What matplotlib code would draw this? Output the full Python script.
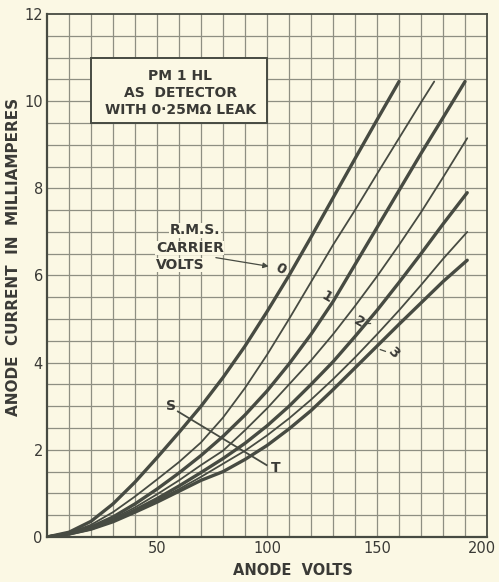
import matplotlib
matplotlib.use("Agg")
import matplotlib.pyplot as plt
from matplotlib.patches import Rectangle
from matplotlib.transforms import ScaledTranslation

# ---- data ----
volts = [0, 10, 20, 30, 40, 50, 60, 70, 80, 90, 100, 110, 120, 130, 140, 150, 160, 170, 180, 190]

c0_v = volts[:17]
c0_i = [0, 0.11, 0.36, 0.76, 1.26, 1.82, 2.40, 3.00, 3.66, 4.38, 5.17, 6.00, 6.88, 7.78, 8.68, 9.57, 10.45]

c05_v = volts[:18] + [176]
c05_i = [0, 0.09, 0.28, 0.57, 0.93, 1.32, 1.72, 2.17, 2.74, 3.42, 4.18, 5.00, 5.85, 6.70, 7.50, 8.33, 9.15, 9.97, 10.45]

c1_v = volts
c1_i = [0, 0.08, 0.23, 0.46, 0.76, 1.10, 1.47, 1.87, 2.31, 2.80, 3.35, 3.97, 4.65, 5.40, 6.25, 7.10, 7.95, 8.80, 9.62, 10.45]

c15_v = volts[:19] + [191]
c15_i = [0, 0.07, 0.20, 0.42, 0.68, 0.98, 1.30, 1.65, 1.98, 2.45, 2.95, 3.50, 4.05, 4.65, 5.30, 5.98, 6.70, 7.45, 8.25, 9.15]

c2_v = volts[:19] + [191]
c2_i = [0, 0.07, 0.19, 0.38, 0.62, 0.88, 1.17, 1.48, 1.80, 2.15, 2.55, 3.00, 3.50, 4.02, 4.60, 5.20, 5.84, 6.50, 7.18, 7.90]

c25_v = volts[:19] + [191]
c25_i = [0, 0.07, 0.18, 0.36, 0.60, 0.84, 1.10, 1.38, 1.68, 1.98, 2.33, 2.72, 3.15, 3.62, 4.12, 4.65, 5.20, 5.78, 6.38, 7.00]

c3_v = volts[:19] + [191]
c3_i = [0, 0.07, 0.18, 0.35, 0.57, 0.80, 1.05, 1.30, 1.50, 1.78, 2.10, 2.48, 2.90, 3.38, 3.88, 4.38, 4.88, 5.37, 5.86, 6.35]

st_v = [59.5, 99.8]
st_i = [2.88, 1.65]

curve_labels = ["0", "1", "2", "3"]
label_v = [106.0, 127.3, 141.8, 157.5]
label_i = [6.15, 5.50, 4.93, 4.22]

x_ticks = [50, 100, 150, 200]
y_ticks = [0, 2, 4, 6, 8, 10, 12]

# ---- style ----
BG = "#fbf8e4"
GRID = "#8e8f82"
INK = "#474b42"
TXT = "#3a3a36"
plt.rcParams["font.family"] = ["DejaVu Sans"]

fig = plt.figure(figsize=(4.99, 5.82), dpi=100, facecolor=BG)
ax = fig.add_axes([0.0942, 0.0773, 0.8818, 0.8987], facecolor=BG)
ax.set_xlim(0, 200)
ax.set_ylim(0, 12)

# grid
for v in range(10, 200, 10):
    ax.axvline(v, color=GRID, lw=0.9, zorder=1)
for k in range(1, 24):
    ax.axhline(k * 0.5, color=GRID, lw=0.9, zorder=1)

for side in ["left", "bottom", "top", "right"]:
    ax.spines[side].set_color(INK)
ax.spines["left"].set_linewidth(1.6)
ax.spines["bottom"].set_linewidth(1.6)
ax.spines["top"].set_linewidth(1.3)
ax.spines["right"].set_linewidth(1.3)

# curves
thick = dict(color=INK, lw=2.4, solid_capstyle="round", zorder=3)
thin = dict(color=INK, lw=1.3, solid_capstyle="round", zorder=3)
ax.plot(c0_v, c0_i, **thick)
ax.plot(c05_v, c05_i, **thin)
ax.plot(c1_v, c1_i, **thick)
ax.plot(c15_v, c15_i, **thin)
ax.plot(c2_v, c2_i, **thick)
ax.plot(c25_v, c25_i, **thin)
ax.plot(c3_v, c3_i, **thick)

tkw = dict(fontsize=10, color=TXT, fontweight="bold", zorder=5)

# S - T line
ax.plot(st_v, st_i, color=INK, lw=1.3, zorder=3)
ax.text(st_v[0] - 1.0, st_i[0] + 0.12, "S", ha="right", va="center", **tkw)
ax.text(st_v[1] + 1.8, st_i[1] - 0.07, "T", ha="left", va="center", **tkw)

# curve number labels
rots = [-30, -30, -30, -45]
for lab, lv, li, r in zip(curve_labels, label_v, label_i, rots):
    ax.text(lv, li, lab, ha="center", va="center", rotation=r, **tkw)
ax.plot([145.0, 147.0], [4.92, 4.92], color=INK, lw=0.9, zorder=4)
ax.plot([151.5, 153.8], [4.30, 4.26], color=INK, lw=0.9, zorder=4)

# R.M.S. carrier volts annotation
box = dict(facecolor=BG, edgecolor="none", pad=0.3)
ax.text(67.3, 7.04, "R.M.S.", ha="center", va="center", bbox=box, **tkw)
ax.text(49.5, 6.63, "CARRIER", ha="left", va="center", bbox=box, **tkw)
ax.text(49.5, 6.24, "VOLTS", ha="left", va="center", bbox=box, **tkw)
ax.annotate("", xy=(102.0, 6.2), xytext=(75.5, 6.42),
            arrowprops=dict(arrowstyle="-|>", color=INK, lw=0.9,
                            mutation_scale=8), zorder=4)

# title box
ax.add_patch(Rectangle((20, 9.5), 80, 1.5, facecolor=BG, edgecolor=INK,
                       lw=1.4, zorder=4))
ax.text(60.5, 10.57, "PM 1 HL", ha="center", va="center", **tkw)
ax.text(60.5, 10.18, "AS  DETECTOR", ha="center", va="center", **tkw)
ax.text(60.5, 9.79, "WITH 0·25MΩ LEAK", ha="center", va="center", **tkw)

# ticks
ax.set_xticks(x_ticks)
ax.set_xticklabels([str(t) for t in x_ticks])
ax.set_yticks(y_ticks)
ax.set_yticklabels([str(t) for t in y_ticks])
ax.tick_params(axis="both", length=0, labelsize=10.5, colors=TXT, pad=3)
last = ax.get_xticklabels()[-1]
last.set_transform(last.get_transform() + ScaledTranslation(-5 / 100, 0, fig.dpi_scale_trans))

ax.set_xlabel("ANODE  VOLTS", fontsize=10.5, color=TXT, fontweight="bold")
ax.set_ylabel("ANODE  CURRENT  IN  MILLIAMPERES", fontsize=11, color=TXT,
              fontweight="bold")
ax.xaxis.set_label_coords(0.56, -0.05)
ax.yaxis.set_label_coords(-0.06, 0.535)

fig.savefig("out.png", dpi=100, facecolor=BG)
